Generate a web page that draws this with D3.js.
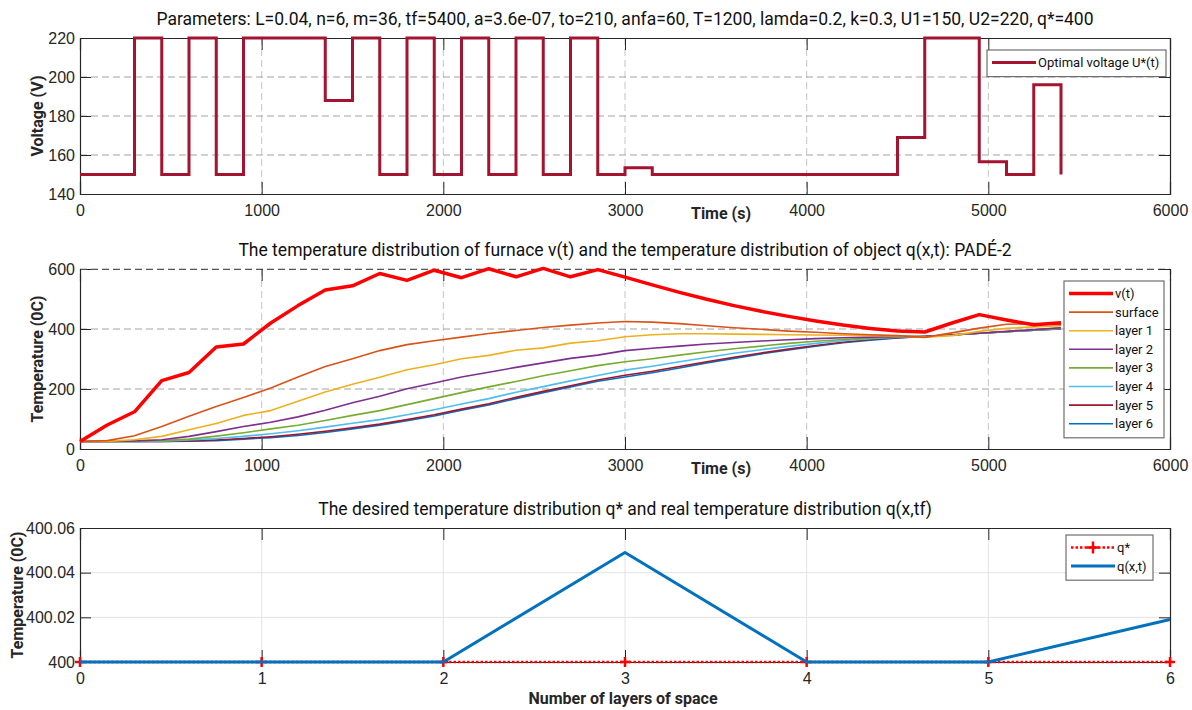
<!DOCTYPE html>
<html>
<head>
<meta charset="utf-8">
<script src="https://cdnjs.cloudflare.com/ajax/libs/d3/7.8.5/d3.min.js"></script>
<style>
  body { margin: 0; background: #fff; }
  svg { font-family: Roboto, "Liberation Sans", Arial, sans-serif; }
</style>
</head>
<body>
<svg id="chart" width="1192" height="710"></svg>
<script>
// ---- data ----
const time = [0,150,300,450,600,750,900,1050,1200,1350,1500,1650,1800,1950,2100,2250,2400,2550,2700,2850,3000,
  3150,3300,3450,3600,3750,3900,4050,4200,4350,4500,4650,4800,4950,5100,5250,5400]

// optimal voltage, value held from each time to the next
const voltage = [150,150,220,150,220,150,220,220,220,188,220,150,220,150,220,150,220,150,220,150,153.5,
  150,150,150,150,150,150,150,150,150,169,220,220,156.5,150,196,150]

const furnace = [25,80,124,228,255,340,350,420,478,530,544,585,562,596,571,601,574,602,574,598,573,
  547,522,499,478,459,442,427,413,402,393,390,420,448,430,414,421]
const surface = [25,28,44,75,109,142,172,203,240,275,301,328,348,361,373,385,395,405,413,420,425,
  423,418,411,404,399,393,389,384,381,378,372,387,403,416,418,414]
const layer1 = [25,25.5,31,42,64,85,112,128,159,190,216,239,264,281,301,312,329,337,353,361,374,
  381,384,384,383,382,381,380,379,378,377,373,378,392,402,407,411]
const layer2 = [25,25,27,31,42,58,75,89,107,129,154,176,201,220,240,256,272,287,302,313,328,
  336,343,350,355,360,364,368,371,373,375,376,380,386,392,398,404]
const layer3 = [25,25,25.5,28,33,43,54,67,79,95,112,128,148,168,188,207,225,244,261,278,291,
  301,313,324,334,343,352,359,365,370,374,376,380,386,391,397,403]
const layer4 = [25,25,25,26,30,35,42,51,61,73,86,98,114,131,150,168,189,208,227,245,263,
  276,291,305,319,331,342,352,361,368,373,376,380,386,391,396,402]
const layer5 = [25,25,25,25.5,27,30,35,41,49,59,71,83,98,114,133,151,172,192,211,230,246,
  259,275,291,306,320,333,345,356,365,371,375,380,386,391,396,401]
const layer6 = [25,25,25,25,26,28,33,38,45,55,67,79,94,110,129,147,168,188,207,226,240,
  254,270,287,302,317,330,343,354,363,370,375,381,386,391,396,400]

const tempNames = ["v(t)","surface","layer 1","layer 2","layer 3","layer 4","layer 5","layer 6"]
const tempSeries = [furnace, surface, layer1, layer2, layer3, layer4, layer5, layer6]
const tempColors = ["#ff0000","#d95319","#edb120","#7e2f8e","#77ac30","#4dbeee","#a2142f","#0072bd"]

const layers = [0,1,2,3,4,5,6]
const qStar = [400,400,400,400,400,400,400]
const qReal = [400,400,400,400.049,400,400,400.019]

const timeTicks = [0,1000,2000,3000,4000,5000,6000]

// ---- layout ----
const svg = d3.select("#chart")
const left = 80, right = 1170
const ink = "#262626"

function frame(cfg) {
  const x = d3.scaleLinear().domain(cfg.xDomain).range([left, right])
  const y = d3.scaleLinear().domain(cfg.yDomain).range([cfg.bottom, cfg.top])
  const g = svg.append("g")

  // grid
  const grid = g.append("g")
  grid.selectAll(".gx").data(cfg.xTicks.slice(1, -1)).join("line")
    .attr("x1", d => x(d)).attr("x2", d => x(d))
    .attr("y1", cfg.top).attr("y2", cfg.bottom)
    .attr("stroke", cfg.dashed ? "#c4c4c4" : "#e3e3e3").attr("stroke-width", 1)
    .attr("stroke-dasharray", cfg.dashed ? "7,4" : null)
  grid.selectAll(".gy").data(cfg.yTicks.slice(1, cfg.dashTop ? undefined : -1)).join("line")
    .attr("x1", left).attr("x2", right)
    .attr("y1", d => y(d)).attr("y2", d => y(d))
    .attr("stroke", cfg.dashed ? "#a3a3a3" : "#e3e3e3").attr("stroke-width", 1)
    .attr("stroke-dasharray", cfg.dashed ? "7,4" : null)

  // axes with inward ticks
  const bottomAxis = d3.axisBottom(x).tickValues(cfg.xTicks).tickSize(-12).tickPadding(11).tickFormat(cfg.xFormat || d3.format("d"))
  const leftAxis = d3.axisLeft(y).tickValues(cfg.yTicks).tickSize(-11).tickPadding(5).tickFormat(cfg.yFormat || d3.format("d"))
  const ax = g.append("g").attr("transform", `translate(0,${cfg.bottom})`).call(bottomAxis)
  const ay = g.append("g").attr("transform", `translate(${left},0)`).call(leftAxis)
  const at = g.append("g").attr("transform", `translate(0,${cfg.top})`)
    .call(d3.axisTop(x).tickValues(cfg.xTicks).tickSize(-12).tickFormat(""))
  const ar = g.append("g").attr("transform", `translate(${right},0)`)
    .call(d3.axisRight(y).tickValues(cfg.yTicks).tickSize(-11).tickFormat(""))
  ;[ax, ay, at, ar].forEach(a => {
    a.select(".domain").attr("stroke", ink).attr("stroke-width", 1.2)
    a.selectAll(".tick line").attr("stroke", ink)
    a.selectAll(".tick text").attr("fill", ink).attr("font-size", 16)
  })
  if (cfg.dashTop) at.select(".domain").attr("stroke-dasharray", "7,4").attr("stroke", "#555")

  // title and labels
  g.append("text").attr("x", (left + right) / 2).attr("y", cfg.top - 13)
    .attr("text-anchor", "middle").attr("font-size", 17.5).attr("fill", "#111").text(cfg.title)
  g.append("text").attr("transform", `translate(${cfg.yLabelX},${(cfg.top + cfg.bottom) / 2}) rotate(-90)`)
    .attr("text-anchor", "middle").attr("font-size", 16).attr("font-weight", "bold").attr("fill", ink).text(cfg.yLabel)
  g.append("text").attr("x", cfg.xLabelX).attr("y", cfg.xLabelY)
    .attr("text-anchor", "middle").attr("font-size", 16).attr("font-weight", "bold").attr("fill", ink).text(cfg.xLabel)
  return { x, y, g }
}

function legend(g, x0, y0, w, rows) {
  const h = rows.length * 18.6 + 8
  g.append("rect").attr("x", x0).attr("y", y0).attr("width", w).attr("height", h)
    .attr("fill", "#fff").attr("stroke", "#6e6e6e").attr("stroke-width", 1.2)
  rows.forEach((r, i) => {
    const cy = y0 + 12.5 + i * 18.6
    g.append("line").attr("x1", x0 + 5).attr("x2", x0 + 49).attr("y1", cy).attr("y2", cy)
      .attr("stroke", r.color).attr("stroke-width", r.width).attr("stroke-dasharray", r.dash || null)
    if (r.marker) {
      g.append("path").attr("d", `M${x0 + 21},${cy}h12M${x0 + 27},${cy - 6}v12`)
        .attr("stroke", r.color).attr("stroke-width", 2.5)
    }
    g.append("text").attr("x", x0 + 51).attr("y", cy + 4.5).attr("font-size", 13).attr("fill", "#111").text(r.name)
  })
}

// ---- panel 1: voltage ----
const p1 = frame({
  top: 38, bottom: 194, xDomain: [0, 6000], yDomain: [140, 220],
  xTicks: timeTicks, yTicks: [140,160,180,200,220], dashed: true,
  title: "Parameters: L=0.04, n=6, m=36, tf=5400, a=3.6e-07, to=210, anfa=60, T=1200, lamda=0.2, k=0.3, U1=150, U2=220, q*=400",
  yLabel: "Voltage (V)", yLabelX: 43, xLabel: "Time (s)", xLabelX: 721, xLabelY: 219
})
p1.g.append("path").datum(time.map((t, i) => [t, voltage[i]]))
  .attr("fill", "none").attr("stroke", "#a2142f").attr("stroke-width", 3)
  .attr("d", d3.line().curve(d3.curveStepAfter).x(d => p1.x(d[0])).y(d => p1.y(d[1])))
legend(p1.g, 987, 50, 179, [{ name: "Optimal voltage U*(t)", color: "#a2142f", width: 3 }])

// ---- panel 2: temperatures ----
const p2 = frame({
  top: 269, bottom: 449, xDomain: [0, 6000], yDomain: [0, 600],
  xTicks: timeTicks, yTicks: [0,200,400,600], dashed: true, dashTop: true,
  title: "The temperature distribution of furnace v(t) and the temperature distribution of object q(x,t): PADÉ-2",
  yLabel: "Temperature (0C)", yLabelX: 43, xLabel: "Time (s)", xLabelX: 721, xLabelY: 474
})
const tempLine = d3.line().x((d, i) => p2.x(time[i])).y(d => p2.y(d))
tempSeries.slice().reverse().forEach((s, k) => {
  const i = tempSeries.length - 1 - k
  p2.g.append("path").datum(s).attr("fill", "none")
    .attr("stroke", tempColors[i]).attr("stroke-width", i === 0 ? 3.5 : 1.6)
    .attr("stroke-linejoin", "round").attr("d", tempLine)
})
legend(p2.g, 1064, 281, 100, tempNames.map((n, i) => ({ name: n, color: tempColors[i], width: i === 0 ? 3.5 : 1.6 })))

// ---- panel 3: final distribution ----
const p3 = frame({
  top: 528, bottom: 662, xDomain: [0, 6], yDomain: [400, 400.06],
  xTicks: layers, yTicks: [400,400.02,400.04,400.06], dashed: false,
  xFormat: d3.format("d"), yFormat: d => d === 400 ? "400" : d3.format(".2f")(d),
  title: "The desired temperature distribution q* and real temperature distribution q(x,tf)",
  yLabel: "Temperature (0C)", yLabelX: 23, xLabel: "Number of layers of space", xLabelX: 623, xLabelY: 704
})
p3.g.append("path").datum(qStar).attr("fill", "none").attr("stroke", "#ff0000")
  .attr("stroke-width", 2.5).attr("stroke-dasharray", "2.5,2")
  .attr("d", d3.line().x((d, i) => p3.x(layers[i])).y(d => p3.y(d)))
p3.g.selectAll(".mk").data(qStar).join("path")
  .attr("d", (d, i) => `M${p3.x(layers[i]) - 5},${p3.y(d)}h10M${p3.x(layers[i])},${p3.y(d) - 5}v10`)
  .attr("stroke", "#ff0000").attr("stroke-width", 2.5)
p3.g.append("path").datum(qReal).attr("fill", "none").attr("stroke", "#0072bd")
  .attr("stroke-width", 3).attr("stroke-linejoin", "round")
  .attr("d", d3.line().x((d, i) => p3.x(layers[i])).y(d => p3.y(d)))
legend(p3.g, 1066, 535, 87, [
  { name: "q*", color: "#ff0000", width: 2.5, dash: "2.5,2", marker: true },
  { name: "q(x,t)", color: "#0072bd", width: 3 }
])
</script>
</body>
</html>
